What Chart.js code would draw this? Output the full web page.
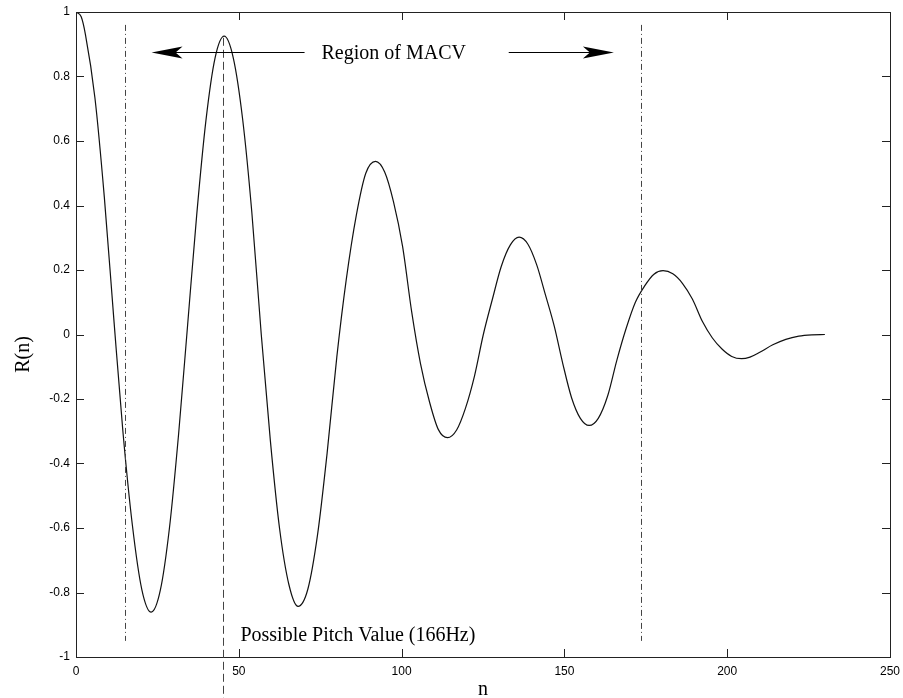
<!DOCTYPE html>
<html>
<head>
<meta charset="utf-8">
<script src="https://cdn.jsdelivr.net/npm/chart.js@4"></script>
<style>
  html, body { margin: 0; padding: 0; background: #fff; }
  canvas { display: block; }
</style>
</head>
<body>
<canvas id="chart" width="903" height="698"></canvas>
<script>
// autocorrelation R(n)
const nValues = [0, 1.6, 2.9, 5.8, 8.7, 11.6, 14.4, 17.3, 20.2,
  23.1, 25.9, 28.7, 31.5, 34.3, 37.1, 39.9, 42.7,
  45.5, 48.3, 51.2, 54.0, 56.9, 59.7, 62.5, 65.4,
  68.2, 71.2, 74.2, 77.1, 80.1, 83.0, 86.1, 89.0,
  92.0, 94.8, 97.5, 100.3, 103.1, 105.8, 108.6, 111.3,
  114.1, 116.9, 119.6, 122.4, 125.1, 127.9, 130.6, 133.4,
  136.1, 138.8, 141.5, 144.2, 146.9, 149.5, 152.2, 154.9,
  157.6, 160.4, 163.3, 166.1, 169.0, 171.8, 174.6, 177.5,
  180.3, 183.3, 186.3, 189.3, 192.4, 195.4, 198.4, 201.4,
  204.4, 207, 210, 214, 218, 222, 226, 230];
const rValues = [1.0, 0.985, 0.93, 0.735, 0.426, 0.05, -0.30, -0.59, -0.79,
  -0.861, -0.793, -0.60, -0.31, 0.032, 0.374, 0.663, 0.857,
  0.925, 0.858, 0.666, 0.379, 0.0, -0.33, -0.60, -0.776,
  -0.843, -0.79, -0.62, -0.37, -0.07, 0.17, 0.37, 0.50,
  0.537, 0.504, 0.412, 0.273, 0.07, -0.09, -0.21, -0.295,
  -0.32, -0.296, -0.229, -0.128, 0.0, 0.11, 0.211, 0.278,
  0.302, 0.28, 0.216, 0.122, 0.025, -0.09, -0.196, -0.26,
  -0.282, -0.26, -0.19, -0.08, 0.02, 0.10, 0.15, 0.187,
  0.198, 0.188, 0.158, 0.11, 0.04, -0.01, -0.045, -0.068,
  -0.075, -0.07, -0.055, -0.032, -0.015, -0.005, -0.001, 0];

const xTicks = [0, 50, 100, 150, 200, 250];
const yTicks = [-1, -0.8, -0.6, -0.4, -0.2, 0, 0.2, 0.4, 0.6, 0.8, 1];

// markers and notes
const macvBounds = [15, 173.5];
const macvSpan = [-0.95, 0.96];
const pitchN = 45;
const pitchSpan = [-1.14, 0.92];
const arrowY = 0.875;
const leftArrow = [70.2, 23.2];   // from, tip
const rightArrow = [132.9, 165.2];
const regionLabel = { text: 'Region of MACV', n: 75.4, y: 0.875 };
const pitchLabel = { text: 'Possible Pitch Value (166Hz)', n: 50.5, y: -0.949 };

const serif = '"Liberation Serif", "Times New Roman", serif';
const sans = '"Liberation Sans", Arial, sans-serif';

function arrowHead(ctx, tipX, tipY, dir) {
  // long notched head, MATLAB style
  const len = 31, half = 6, notch = 24;
  ctx.beginPath();
  ctx.moveTo(tipX, tipY);
  ctx.lineTo(tipX - dir * len, tipY - half);
  ctx.lineTo(tipX - dir * notch, tipY);
  ctx.lineTo(tipX - dir * len, tipY + half);
  ctx.closePath();
  ctx.fill();
}

const decor = {
  id: 'decor',
  afterDatasetsDraw(chart) {
    const { ctx, chartArea: a, scales: { x, y } } = chart;
    ctx.save();

    // box
    ctx.strokeStyle = '#222';
    ctx.lineWidth = 1;
    ctx.setLineDash([]);
    ctx.strokeRect(a.left + 0.5, a.top + 0.5, a.right - a.left, a.bottom - a.top);

    // inward ticks on all four sides
    ctx.beginPath();
    for (const v of xTicks) {
      const px = Math.round(x.getPixelForValue(v)) + 0.5;
      ctx.moveTo(px, a.bottom); ctx.lineTo(px, a.bottom - 8);
      ctx.moveTo(px, a.top); ctx.lineTo(px, a.top + 8);
    }
    for (const v of yTicks) {
      const py = Math.round(y.getPixelForValue(v)) + 0.5;
      ctx.moveTo(a.left, py); ctx.lineTo(a.left + 8, py);
      ctx.moveTo(a.right, py); ctx.lineTo(a.right - 8, py);
    }
    ctx.stroke();

    // MACV bounds, dash-dot
    ctx.strokeStyle = '#444';
    ctx.setLineDash([6, 3, 1, 3]);
    ctx.beginPath();
    for (const n of macvBounds) {
      const px = Math.round(x.getPixelForValue(n)) + 0.5;
      ctx.moveTo(px, y.getPixelForValue(macvSpan[1]));
      ctx.lineTo(px, y.getPixelForValue(macvSpan[0]));
    }
    ctx.stroke();

    // pitch, dashed
    ctx.setLineDash([8, 4]);
    ctx.beginPath();
    const pp = Math.round(x.getPixelForValue(pitchN)) + 0.5;
    ctx.moveTo(pp, y.getPixelForValue(pitchSpan[1]));
    ctx.lineTo(pp, y.getPixelForValue(pitchSpan[0]));
    ctx.stroke();

    // arrows
    ctx.setLineDash([]);
    ctx.strokeStyle = '#000';
    ctx.fillStyle = '#000';
    const ay = Math.round(y.getPixelForValue(arrowY)) + 0.5;
    const lf = x.getPixelForValue(leftArrow[0]), lt = x.getPixelForValue(leftArrow[1]);
    const rf = x.getPixelForValue(rightArrow[0]), rt = x.getPixelForValue(rightArrow[1]);
    ctx.beginPath();
    ctx.moveTo(lf, ay); ctx.lineTo(lt + 20, ay);
    ctx.moveTo(rf, ay); ctx.lineTo(rt - 20, ay);
    ctx.stroke();
    arrowHead(ctx, lt, ay, -1);
    arrowHead(ctx, rt, ay, 1);

    // notes
    ctx.font = '20px ' + serif;
    ctx.textAlign = 'left';
    ctx.textBaseline = 'middle';
    ctx.fillText(regionLabel.text, x.getPixelForValue(regionLabel.n), y.getPixelForValue(regionLabel.y) + 1);
    ctx.textBaseline = 'alphabetic';
    ctx.fillText(pitchLabel.text, x.getPixelForValue(pitchLabel.n), y.getPixelForValue(pitchLabel.y));

    // axis labels
    ctx.textAlign = 'center';
    ctx.fillText('n', (a.left + a.right) / 2, 695);
    ctx.translate(29, (a.top + a.bottom) / 2 + 20);
    ctx.rotate(-Math.PI / 2);
    ctx.fillText('R(n)', 0, 0);
    ctx.restore();
  }
};

const fmt = v => String(Math.round(v * 10) / 10);

new Chart(document.getElementById('chart'), {
  type: 'line',
  data: {
    datasets: [{
      data: nValues.map((n, i) => ({ x: n, y: rValues[i] })),
      borderColor: '#111',
      borderWidth: 1.2,
      pointRadius: 0,
      cubicInterpolationMode: 'monotone',
      fill: false
    }]
  },
  options: {
    responsive: false,
    animation: false,
    devicePixelRatio: 1,
    layout: { padding: { left: 0, right: 13, top: 12, bottom: 0 } },
    plugins: { legend: { display: false }, tooltip: { enabled: false } },
    scales: {
      x: {
        type: 'linear', min: 0, max: 250,
        grid: { display: false, drawTicks: false },
        border: { display: false },
        afterBuildTicks: s => { s.ticks = xTicks.map(v => ({ value: v })); },
        afterFit: s => { s.height = 41; s.paddingLeft = 0; s.paddingRight = 0; },
        ticks: { color: '#000', font: { family: sans, size: 12 }, padding: 7, maxRotation: 0, callback: fmt }
      },
      y: {
        type: 'linear', min: -1, max: 1,
        grid: { display: false, drawTicks: false },
        border: { display: false },
        afterBuildTicks: s => { s.ticks = yTicks.map(v => ({ value: v })); },
        afterFit: s => { s.width = 76; s.paddingTop = 0; s.paddingBottom = 0; },
        ticks: { color: '#000', font: { family: sans, size: 12 }, padding: 6, callback: fmt }
      }
    }
  },
  plugins: [decor]
});
</script>
</body>
</html>
